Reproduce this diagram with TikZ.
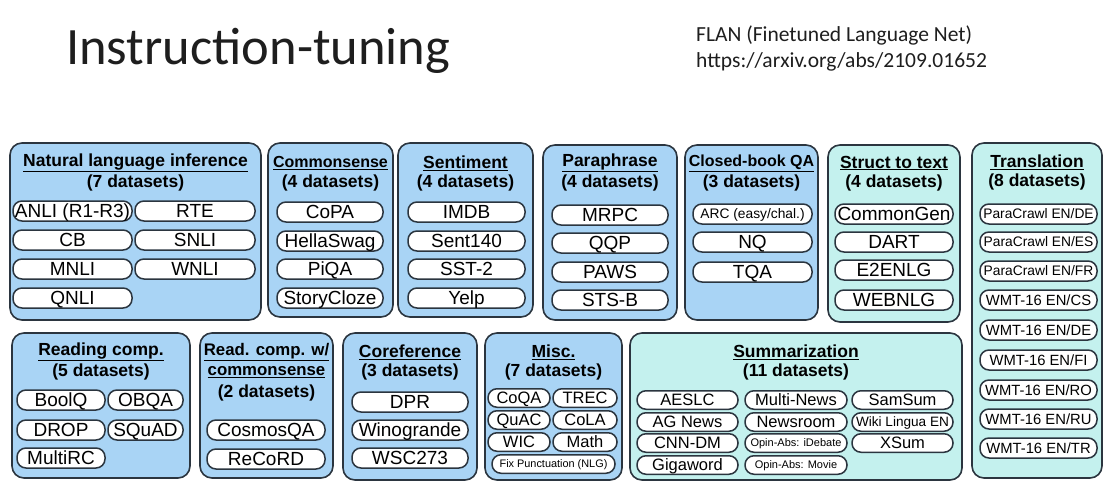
\documentclass[tikz,border=0pt]{standalone}
\usepackage{fontspec}
\setmainfont{Liberation Sans}
\newfontfamily\slidefont{Carlito}
\usetikzlibrary{fit}
\definecolor{bluefill}{HTML}{A9D4F5}
\definecolor{tealfill}{HTML}{C4F1EE}
\definecolor{edge}{HTML}{2B353F}
\definecolor{slidetext}{HTML}{1E1E1E}
\newcommand\fs[1]{\fontsize{#1}{#1}\selectfont}

\begin{document}
\begin{tikzpicture}[x=1pt,y=-1pt,
  grp/.style={draw=edge,line width=1.6pt,rounded corners=12pt,inner sep=0pt},
  bluegrp/.style={grp,fill=bluefill},
  tealgrp/.style={grp,fill=tealfill},
  ttl/.style={font=\bfseries\fs{17.5},inner sep=0pt},
  ttlsm/.style={ttl,font=\bfseries\fs{16}},
  % text size of a pill, with the cap height as text height so capitals sit centred
  sz/.style={font=\fs{#1},text height=0.716*#1pt,text depth=0pt},
  pill/.style={draw=edge,fill=white,line width=1.5pt,rounded corners=9pt,
    minimum height=20pt,inner sep=0pt,sz=19},
  pillm/.style={pill,minimum height=18.5pt,sz=16.5},
  pills/.style={pill,sz=13.8},
  pillwmt/.style={pill,sz=14.8},
  pillms/.style={pillm,sz=13.6},
  pillxs/.style={pillm,sz=11},
]
\path[use as bounding box,fill=white] (0,0) rectangle (1106,487);

% heading and reference
\node[anchor=base west,inner sep=0pt,font=\slidefont\fs{52.5},text=slidetext] (title) at (66,65) {Instruction-tuning};
\node[anchor=base west,inner sep=0pt,font=\slidefont\fs{21.5},text=slidetext] (flan) at (696,42) {FLAN (Finetuned Language Net)};
\node[anchor=base west,inner sep=0pt,font=\slidefont\fs{21.5},text=slidetext] (url) at (696,68) {https://arxiv.org/abs/2109.01652};

% ---------- top row ----------
% Natural language inference
\node[bluegrp,fit={(10,143)(261,320)}] (nli) {};
\node[ttl] (nli-t) at (135.5,163) {\underline{Natural language inference}};
\node[ttl] (nli-n) at (135.5,183) {(7 datasets)};
\node[pill,minimum width=119pt] (anli) at (72.5,211) {ANLI (R1-R3)};
\node[pill,minimum width=120pt] (rte) at (195,211) {RTE};
\node[pill,minimum width=119pt] (cb) at (72.5,240) {CB};
\node[pill,minimum width=120pt] (snli) at (195,240) {SNLI};
\node[pill,minimum width=119pt] (mnli) at (72.5,269) {MNLI};
\node[pill,minimum width=120pt] (wnli) at (195,269) {WNLI};
\node[pill,minimum width=119pt] (qnli) at (72.5,298) {QNLI};

% Commonsense
\node[bluegrp,fit={(268,143)(393,317)}] (cs) {};
\node[ttlsm] (cs-t) at (330.5,163) {\underline{Commonsense}};
\node[ttl] (cs-n) at (330.5,183) {(4 datasets)};
\node[pill,minimum width=106pt] (copa) at (330,212) {CoPA};
\node[pill,minimum width=106pt] (hella) at (330,241) {HellaSwag};
\node[pill,minimum width=106pt] (piqa) at (330,269) {PiQA};
\node[pill,minimum width=106pt] (story) at (330,298) {StoryCloze};

% Sentiment
\node[bluegrp,fit={(398,143)(533,317)}] (sent) {};
\node[ttl] (sent-t) at (465.5,163) {\underline{Sentiment}};
\node[ttl] (sent-n) at (465.5,183) {(4 datasets)};
\node[pill,minimum width=117pt] (imdb) at (466.5,212) {IMDB};
\node[pill,minimum width=117pt] (s140) at (466.5,241) {Sent140};
\node[pill,minimum width=117pt] (sst) at (466.5,269) {SST-2};
\node[pill,minimum width=117pt] (yelp) at (466.5,298) {Yelp};

% Paraphrase
\node[bluegrp,fit={(543,145)(677,320)}] (para) {};
\node[ttl] (para-t) at (610,163) {\underline{Paraphrase}};
\node[ttl] (para-n) at (610,183) {(4 datasets)};
\node[pill,minimum width=116pt] (mrpc) at (610,215) {MRPC};
\node[pill,minimum width=116pt] (qqp) at (610,243) {QQP};
\node[pill,minimum width=116pt] (paws) at (610,272) {PAWS};
\node[pill,minimum width=116pt] (stsb) at (610,300) {STS-B};

% Closed-book QA
\node[bluegrp,fit={(685,145)(818,320)}] (cbqa) {};
\node[ttlsm] (cbqa-t) at (751.5,163) {\underline{Closed-book QA}};
\node[ttl] (cbqa-n) at (751.5,183) {(3 datasets)};
\node[pills,minimum width=119pt] (arc) at (752.5,214) {ARC (easy/chal.)};
\node[pill,minimum width=119pt] (nq) at (752.5,242) {NQ};
\node[pill,minimum width=119pt] (tqa) at (752.5,272) {TQA};

% Struct to text
\node[tealgrp,fit={(828,145)(960,322)}] (s2t) {};
\node[ttl] (s2t-t) at (894,163) {\underline{Struct to text}};
\node[ttl] (s2t-n) at (894,183) {(4 datasets)};
\node[pill,minimum width=118pt] (cgen) at (894,214) {CommonGen};
\node[pill,minimum width=118pt] (dart) at (894,242) {DART};
\node[pill,minimum width=118pt] (e2e) at (894,270) {E2ENLG};
\node[pill,minimum width=118pt] (webnlg) at (894,300) {WEBNLG};

% Translation
\node[tealgrp,fit={(972,143)(1102,478)}] (trans) {};
\node[ttl] (trans-t) at (1037,162) {\underline{Translation}};
\node[ttl] (trans-n) at (1037,182) {(8 datasets)};
\node[pills,minimum width=117pt] (pcde) at (1038.5,214) {ParaCrawl EN/DE};
\node[pills,minimum width=117pt] (pces) at (1038.5,242) {ParaCrawl EN/ES};
\node[pills,minimum width=117pt] (pcfr) at (1038.5,271) {ParaCrawl EN/FR};
\node[pillwmt,minimum width=117pt] (wcs) at (1038.5,300) {WMT-16 EN/CS};
\node[pillwmt,minimum width=117pt] (wde) at (1038.5,330) {WMT-16 EN/DE};
\node[pillwmt,minimum width=117pt] (wfi) at (1038.5,360) {WMT-16 EN/FI};
\node[pillwmt,minimum width=117pt] (wro) at (1038.5,390) {WMT-16 EN/RO};
\node[pillwmt,minimum width=117pt] (wru) at (1038.5,419) {WMT-16 EN/RU};
\node[pillwmt,minimum width=117pt] (wtr) at (1038.5,448) {WMT-16 EN/TR};

% ---------- bottom row ----------
% Reading comprehension
\node[bluegrp,fit={(12,333)(190,478)}] (rc) {};
\node[ttl] (rc-t) at (101,352) {\underline{Reading comp.}};
\node[ttl] (rc-n) at (101,372) {(5 datasets)};
\node[pill,minimum width=88pt] (boolq) at (61,400) {BoolQ};
\node[pill,minimum width=75pt] (obqa) at (145.5,400) {OBQA};
\node[pill,minimum width=88pt] (drop) at (61,430) {DROP};
\node[pill,minimum width=75pt] (squad) at (145.5,430) {SQuAD};
\node[pill,minimum width=88pt] (multirc) at (61,458) {MultiRC};

% Reading comprehension with commonsense
\node[bluegrp,fit={(200,333)(333,478)}] (rcc) {};
\node[ttl,font=\bfseries\fs{16.8}] (rcc-t1) at (266.5,352) {\underline{Read. comp. w/}};
\node[ttl,font=\bfseries\fs{16.8}] (rcc-t2) at (266.5,372.5) {\underline{commonsense}};
\node[ttl] (rcc-n) at (266.5,393) {(2 datasets)};
\node[pill,minimum width=118pt] (cosmos) at (266,430) {CosmosQA};
\node[pill,minimum width=118pt] (record) at (266,459) {ReCoRD};

% Coreference
\node[bluegrp,fit={(343,333)(477,480)}] (coref) {};
\node[ttl] (coref-t) at (410,352) {\underline{Coreference}};
\node[ttl] (coref-n) at (410,372) {(3 datasets)};
\node[pill,minimum width=116pt] (dpr) at (410,402) {DPR};
\node[pill,minimum width=116pt] (wino) at (410,430) {Winogrande};
\node[pill,minimum width=116pt] (wsc) at (410,458) {WSC273};

% Misc.
\node[bluegrp,fit={(485,333)(622,480)}] (misc) {};
\node[ttl] (misc-t) at (553.5,352) {\underline{Misc.}};
\node[ttl] (misc-n) at (553.5,372) {(7 datasets)};
\node[pillm,minimum width=62pt] (coqa) at (519,398) {CoQA};
\node[pillm,minimum width=64pt] (trec) at (585,398) {TREC};
\node[pillm,minimum width=62pt] (quac) at (519,420) {QuAC};
\node[pillm,minimum width=64pt] (cola) at (585,420) {CoLA};
\node[pillm,minimum width=62pt] (wic) at (519,442) {WIC};
\node[pillm,minimum width=64pt] (math) at (585,442) {Math};
\node[pillm,minimum width=123pt,sz=10.9] (fixp) at (553.5,464) {Fix Punctuation (NLG)};

% Summarization
\node[tealgrp,fit={(630,333)(962,480)}] (summ) {};
\node[ttl] (summ-t) at (796,352) {\underline{Summarization}};
\node[ttl] (summ-n) at (796,372) {(11 datasets)};
\node[pillm,minimum width=101pt] (aeslc) at (687.5,400) {AESLC};
\node[pillm,minimum width=101pt] (agnews) at (687.5,422) {AG News};
\node[pillm,minimum width=101pt] (cnndm) at (687.5,443) {CNN-DM};
\node[pillm,minimum width=101pt] (giga) at (687.5,465) {Gigaword};
\node[pillm,minimum width=102pt] (mnews) at (796,400) {Multi-News};
\node[pillm,minimum width=102pt] (newsroom) at (796,422) {Newsroom};
\node[pillxs,minimum width=102pt] (opdeb) at (796,443) {Opin-Abs: iDebate};
\node[pillxs,minimum width=102pt] (opmov) at (796,465) {Opin-Abs: Movie};
\node[pillm,minimum width=101pt] (samsum) at (902.5,400) {SamSum};
\node[pillms,minimum width=101pt] (wiki) at (902.5,422) {Wiki Lingua EN};
\node[pillm,minimum width=101pt] (xsum) at (902.5,443) {XSum};
\end{tikzpicture}
\end{document}
